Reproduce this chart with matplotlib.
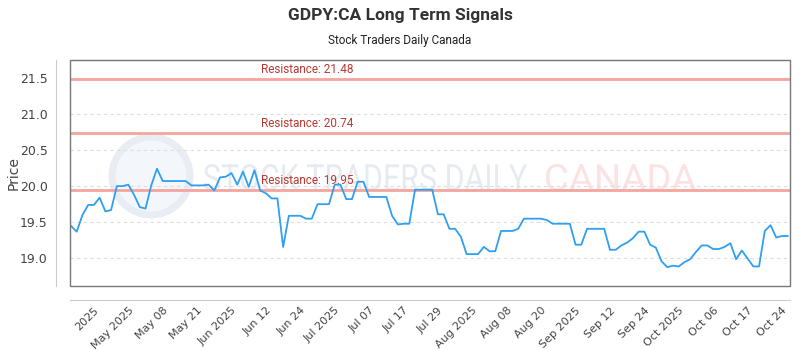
import matplotlib
matplotlib.use("Agg")
import matplotlib.pyplot as plt
from matplotlib.patches import Rectangle, Circle, PathPatch
from matplotlib.textpath import TextPath
from matplotlib.font_manager import FontProperties
from matplotlib.transforms import Affine2D

# closing prices, one per trading day
prices = [19.45, 19.37, 19.60, 19.74, 19.74, 19.84, 19.65, 19.67, 20.00, 20.00,
          20.02, 19.88, 19.71, 19.69, 20.01, 20.24, 20.07, 20.07, 20.07, 20.07,
          20.07, 20.01, 20.01, 20.01, 20.02, 19.94, 20.12, 20.13, 20.18, 20.02,
          20.20, 19.99, 20.22, 19.94, 19.90, 19.83, 19.83, 19.16, 19.59, 19.59,
          19.59, 19.55, 19.55, 19.75, 19.75, 19.75, 20.02, 20.02, 19.82, 19.82,
          20.06, 20.06, 19.85, 19.85, 19.85, 19.85, 19.59, 19.47, 19.48, 19.48,
          19.95, 19.95, 19.95, 19.95, 19.61, 19.61, 19.41, 19.41, 19.30, 19.06,
          19.06, 19.06, 19.16, 19.10, 19.10, 19.38, 19.38, 19.38, 19.41, 19.55,
          19.55, 19.55, 19.55, 19.53, 19.48, 19.48, 19.48, 19.48, 19.19, 19.19,
          19.41, 19.41, 19.41, 19.41, 19.12, 19.12, 19.18, 19.22, 19.28, 19.37,
          19.37, 19.19, 19.15, 18.96, 18.88, 18.90, 18.89, 18.95, 18.99, 19.09,
          19.18, 19.18, 19.13, 19.13, 19.16, 19.21, 18.99, 19.11, 19.00, 18.89,
          18.89, 19.38, 19.46, 19.29, 19.31, 19.31]

resistance = [21.48, 20.74, 19.95]

tick_idx = list(range(4, 126, 6))
tick_labels = ["2025", "May 2025", "May 08", "May 21", "Jun 2025", "Jun 12", "Jun 24",
               "Jul 2025", "Jul 07", "Jul 17", "Jul 29", "Aug 2025", "Aug 08", "Aug 20",
               "Sep 2025", "Sep 12", "Sep 24", "Oct 2025", "Oct 06", "Oct 17", "Oct 24"]

yticks = [19.0, 19.5, 20.0, 20.5, 21.0, 21.5]

narrow = ["Roboto", "DejaVu Sans"]


def boxed_text(fig, s, x0, y0, w, h, color):
    # squeeze a text into a box given in pixels from the top-left corner
    tp = TextPath((0, 0), s, size=10, prop=FontProperties(family="Roboto"))
    ext = tp.get_extents()
    H = fig.get_figheight() * fig.dpi
    tr = (Affine2D().translate(-ext.x0, -ext.y0)
          .scale(w / ext.width, h / ext.height)
          .translate(x0, H - y0 - h)
          .scale(1.0 / fig.dpi))
    fig.patches.append(PathPatch(tr.transform_path(tp), transform=fig.dpi_scale_trans,
                                 facecolor=color, edgecolor="none", zorder=-1))


fig = plt.figure(figsize=(8, 3.5), dpi=100)
ax = fig.add_axes([0.0875, 0.183, 0.9, 0.647])

# watermark
fig.patches.append(Circle((1.51, 3.5 - 1.76), 0.39, transform=fig.dpi_scale_trans,
                          facecolor="#f3f6fa", edgecolor="#e8edf4", lw=5, zorder=-1))
boxed_text(fig, "STOCK TRADERS DAILY", 204, 164, 323, 27, "#e6ebf2")
boxed_text(fig, "CANADA", 546, 164, 150, 27, "#fce2e2")

for r in resistance:
    ax.axhline(r, color="#f4a59d", lw=2, zorder=2)
    ax.text(0.265, r + 0.04, "Resistance: %.2f" % r, transform=ax.get_yaxis_transform(),
            color="#b83a32", fontsize=8.5, va="bottom", ha="left", family=narrow, zorder=3)

ax.plot(range(len(prices)), prices, color="#2f9ff2", lw=1.3, zorder=4)

ax.set_xlim(-0.17, 125.4)
ax.set_ylim(18.62, 21.75)
ax.set_yticks(yticks)
ax.set_yticklabels(["%.1f" % v for v in yticks])
ax.set_xticks(tick_idx)
ax.set_xticklabels(tick_labels)

ax.grid(axis="y", color="#dddddd", ls=(0, (3, 3)), lw=0.8)
ax.set_axisbelow(True)
ax.patch.set_alpha(0)

for s in ["top", "right"]:
    ax.spines[s].set_visible(False)
for s in ["left", "bottom"]:
    ax.spines[s].set_position(("outward", 10))
    ax.spines[s].set_color("#cccccc")
ax.add_patch(Rectangle((0, 0), 1, 1, transform=ax.transAxes, fill=False,
                       edgecolor="#777777", lw=1, zorder=5, clip_on=False))

ax.tick_params(axis="both", length=0, labelcolor="#444444")
ax.tick_params(axis="y", pad=6, labelsize=9)
ax.tick_params(axis="x", pad=4, labelsize=8)
plt.setp(ax.get_xticklabels(), rotation=45, ha="right", rotation_mode="anchor")
ax.set_ylabel("Price", fontsize=10, color="#444444")
ax.yaxis.set_label_coords(-0.068, 0.5)

fig.text(0.5, 0.955, "GDPY:CA Long Term Signals", ha="center", va="center",
         fontsize=12.5, fontweight="bold", color="#333333", family=narrow)
fig.text(0.5, 0.885, "Stock Traders Daily Canada", ha="center", va="center",
         fontsize=8.5, color="#222222", family=narrow)

fig.savefig("out.png", dpi=100)
